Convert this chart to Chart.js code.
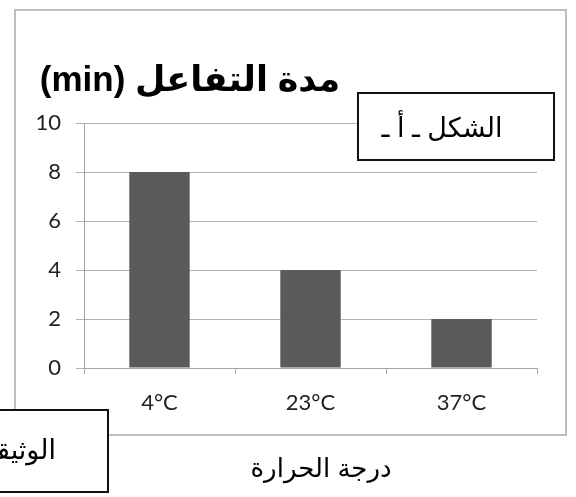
<!DOCTYPE html>
<html>
<head>
<meta charset="utf-8">
<script src="https://cdn.jsdelivr.net/npm/chart.js@4/dist/chart.umd.min.js"></script>
<style>
  html, body { margin: 0; padding: 0; background: #fff; }
  #wrap { width: 576px; height: 497px; position: relative; }
</style>
</head>
<body>
<div id="wrap"><canvas id="chart"></canvas></div>
<script>
const categories = ["4°C", "23°C", "37°C"];
const durations = [8, 4, 2];
const yMin = 0;
const yMax = 10;
const yStep = 2;

const chartTitle = "مدة التفاعل (min)";
const xTitle = "درجة الحرارة";
const figureLabel = "الشكل ـ أ ـ";
const docLabel = "الوثيقة";

const arabicFont = "'Liberation Sans', 'DejaVu Sans', sans-serif";

// frame, title and the two text boxes, drawn around the chart
const extras = {
  id: "extras",
  beforeDraw(chart) {
    const ctx = chart.ctx;
    ctx.save();
    ctx.fillStyle = "#fff";
    ctx.fillRect(0, 0, chart.width, chart.height);
    ctx.strokeStyle = "#bdbdbd";
    ctx.lineWidth = 2;
    ctx.strokeRect(15, 10, 551, 425);
    ctx.restore();
  },
  afterDraw(chart) {
    const ctx = chart.ctx;
    ctx.save();
    ctx.direction = "rtl";
    ctx.textBaseline = "middle";
    ctx.fillStyle = "#000";

    ctx.font = "bold 35px " + arabicFont;
    ctx.textAlign = "center";
    ctx.fillText(chartTitle, 190, 81);

    // box "figure a"
    ctx.fillStyle = "#fff";
    ctx.fillRect(358, 93, 196, 67);
    ctx.strokeStyle = "#111";
    ctx.lineWidth = 2;
    ctx.strokeRect(358, 93, 196, 67);
    ctx.fillStyle = "#000";
    ctx.font = "27px " + arabicFont;
    ctx.fillText(figureLabel, 442, 130);

    // box "document", cut by the left edge
    ctx.fillStyle = "#fff";
    ctx.fillRect(-10, 410, 118, 82);
    ctx.strokeRect(-10, 410, 118, 82);
    ctx.fillStyle = "#000";
    ctx.textAlign = "right";
    ctx.fillText(docLabel, 56, 452);

    ctx.textAlign = "center";
    ctx.font = "26px " + arabicFont;
    ctx.fillText(xTitle, 321, 470);
    ctx.restore();
  }
};

const data = {
  labels: categories,
  datasets: [
    {
      data: durations,
      backgroundColor: "#5a5a5a",
      borderWidth: 0,
      categoryPercentage: 1,
      barPercentage: 0.4,
    },
  ],
};

const config = {
  type: "bar",
  data: data,
  plugins: [extras],
  options: {
    responsive: true,
    maintainAspectRatio: false,
    animation: false,
    layout: {
      padding: { left: 20, right: 39, top: 123, bottom: 0 },
    },
    plugins: {
      legend: { display: false },
      tooltip: { enabled: false },
    },
    scales: {
      x: {
        afterFit(scale) { scale.height = 129; },
        grid: {
          offset: true,
          drawOnChartArea: false,
          tickLength: 6,
          color: "#a6a6a6",
        },
        border: { display: true, color: "#a6a6a6" },
        ticks: {
          padding: 16,
          color: "#222",
          font: { family: "Lato", size: 22 },
        },
      },
      y: {
        min: yMin,
        max: yMax,
        afterFit(scale) { scale.width = 64; },
        grid: {
          tickLength: 8,
          color: "#b3b3b3",
        },
        border: { display: true, color: "#a6a6a6" },
        ticks: {
          stepSize: yStep,
          padding: 15,
          color: "#222",
          font: { family: "Lato", size: 22 },
        },
      },
    },
  },
};

new Chart(document.getElementById("chart"), config);
</script>
</body>
</html>
